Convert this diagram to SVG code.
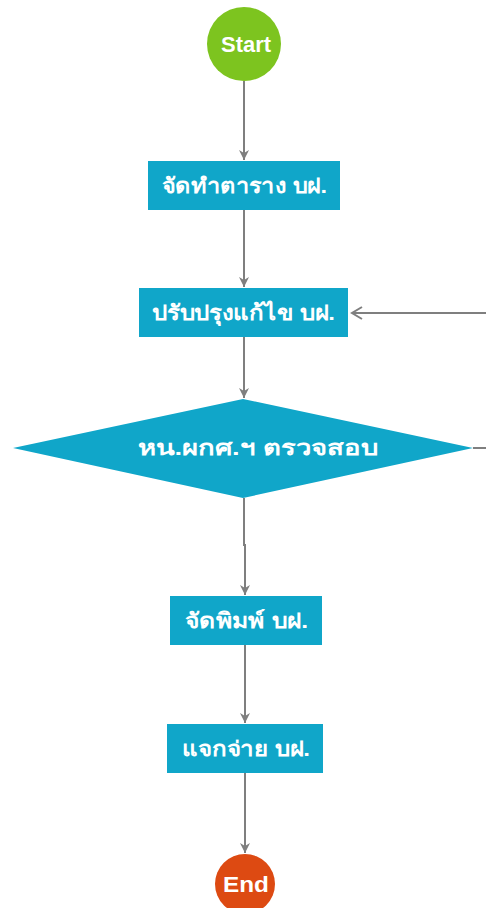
<svg xmlns="http://www.w3.org/2000/svg" width="486" height="908" viewBox="0 0 486 908">
<style>
.box{fill:#10A6C9;}
.lbl{fill:#ffffff;font-family:"Liberation Sans","Noto Sans",sans-serif;font-weight:bold;font-size:21px;text-anchor:middle;dominant-baseline:central;}
.term{font-size:22px;}
.conn{stroke:#7f7f7f;stroke-width:2;fill:none;}
</style>
<defs>
<marker id="ah" markerWidth="12" markerHeight="12" refX="10" refY="6" orient="auto" markerUnits="userSpaceOnUse">
<path d="M0,1 L10,6 L0,11 L3,6 Z" fill="#7f7f7f"/>
</marker>
</defs>
<rect width="486" height="908" fill="#ffffff"/>
<g id="connectors">
<line class="conn" x1="244" y1="81" x2="244" y2="160" marker-end="url(#ah)"/>
<line class="conn" x1="244" y1="210" x2="244" y2="287" marker-end="url(#ah)"/>
<line class="conn" x1="486" y1="313" x2="352" y2="313"/>
<path class="conn" d="M362,307 L352,313 L362,319"/>
<line class="conn" x1="244" y1="337" x2="244" y2="398" marker-end="url(#ah)"/>
<line class="conn" x1="473" y1="448" x2="486" y2="448"/>
<path class="conn" d="M244,498 V545 H245 V595" marker-end="url(#ah)"/>
<line class="conn" x1="245" y1="645" x2="245" y2="723" marker-end="url(#ah)"/>
<line class="conn" x1="245" y1="773" x2="245" y2="853" marker-end="url(#ah)"/>
</g>
<g id="start">
<circle cx="244" cy="44" r="37" fill="#7DC41F"/>
<text class="lbl term" x="246" y="44" textLength="50" lengthAdjust="spacingAndGlyphs">Start</text>
</g>
<g id="n1">
<rect class="box" x="148" y="161" width="192" height="49"/>
<text class="lbl" x="244.5" y="185" textLength="165" lengthAdjust="spacingAndGlyphs">จัดทำตาราง บฝ.</text>
</g>
<g id="n2">
<rect class="box" x="139" y="288" width="209" height="49"/>
<text class="lbl" x="243.5" y="312" textLength="183" lengthAdjust="spacingAndGlyphs">ปรับปรุงแก้ไข บฝ.</text>
</g>
<g id="d1">
<polygon class="box" points="243,399 473,448 243,498 13,448"/>
<text class="lbl" x="258" y="447" textLength="240" lengthAdjust="spacingAndGlyphs">หน.ผกศ.ฯ ตรวจสอบ</text>
</g>
<g id="n3">
<rect class="box" x="170" y="596" width="152" height="49"/>
<text class="lbl" x="246.5" y="620" textLength="123" lengthAdjust="spacingAndGlyphs">จัดพิมพ์ บฝ.</text>
</g>
<g id="n4">
<rect class="box" x="167" y="724" width="156" height="49"/>
<text class="lbl" x="246" y="748" textLength="128" lengthAdjust="spacingAndGlyphs">แจกจ่าย บฝ.</text>
</g>
<g id="end">
<circle cx="245" cy="884" r="30" fill="#DD4A12"/>
<text class="lbl term" x="246" y="884" textLength="46" lengthAdjust="spacingAndGlyphs">End</text>
</g>
</svg>
